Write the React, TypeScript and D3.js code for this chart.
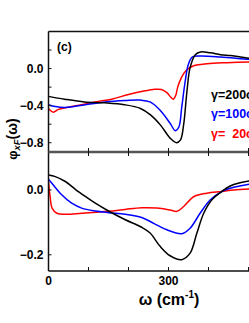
import React from 'react';
import * as d3 from 'd3';

// omega (cm-1), phi values
const topBlack: [number, number][] = [
  [0, -0.3], [40, -0.33], [90, -0.36], [140, -0.37], [190, -0.39], [230, -0.43], [255, -0.5],
  [280, -0.61], [304, -0.75], [320, -0.8], [330, -0.77], [338, -0.6], [346, -0.25], [354, 0.01],
  [367, 0.15], [380, 0.18], [405, 0.17], [430, 0.15], [455, 0.14], [480, 0.125], [502, 0.11], [530, 0.1],
];
const topBlue: [number, number][] = [
  [0, -0.39], [17, -0.41], [42, -0.42], [92, -0.39], [142, -0.36], [192, -0.345], [229, -0.34],
  [254, -0.36], [279, -0.45], [304, -0.59], [317, -0.67], [326, -0.63], [333, -0.42], [342, -0.13],
  [350, 0.05], [360, 0.125], [380, 0.135], [430, 0.125], [502, 0.1], [530, 0.095],
];
const topRed: [number, number][] = [
  [0, -0.43], [12, -0.47], [25, -0.44], [58, -0.41], [117, -0.36], [158, -0.33], [200, -0.28],
  [242, -0.24], [262, -0.225], [282, -0.225], [296, -0.26], [306, -0.31], [312, -0.33], [318, -0.29],
  [323, -0.2], [332, -0.1], [344, -0.02], [363, 0.03], [396, 0.053], [446, 0.064], [502, 0.07], [530, 0.07],
];

const botBlack: [number, number][] = [
  [0, 0.046], [17, 0.041], [42, 0.026], [67, 0.002], [92, -0.02], [117, -0.041], [150, -0.065],
  [192, -0.092], [233, -0.115], [254, -0.133], [279, -0.174], [304, -0.203], [333, -0.215],
  [354, -0.195], [371, -0.133], [388, -0.072], [408, -0.031], [433, -0.005], [454, 0.012],
  [479, 0.022], [502, 0.028], [530, 0.031],
];
const botBlue: [number, number][] = [
  [0, 0.033], [9, 0.02], [33, -0.015], [58, -0.041], [83, -0.056], [117, -0.065], [150, -0.07],
  [192, -0.075], [233, -0.085], [263, -0.103], [296, -0.123], [333, -0.135], [354, -0.118],
  [379, -0.072], [404, -0.031], [433, -0.005], [463, 0.008], [502, 0.018], [530, 0.021],
];
const botRed: [number, number][] = [
  [0, 0.026], [4, -0.02], [9, -0.056], [21, -0.072], [42, -0.075], [83, -0.072], [150, -0.066],
  [192, -0.06], [233, -0.055], [271, -0.056], [304, -0.062], [321, -0.066], [338, -0.051],
  [363, -0.021], [396, -0.01], [433, -0.005], [463, 0], [502, 0.003], [530, 0.004],
];

const xTicks = [100, 200, 300, 400, 500];
const xLabels = [0, 300];
const topTicks = [0.2, 0, -0.2, -0.4, -0.6, -0.8];
const topLabels = [0, -0.4, -0.8];
const botTicks = [0, -0.2];
const legend = [
  { text: 'γ=200cm', color: '#000' },
  { text: 'γ=100cm', color: '#0000ff' },
  { text: 'γ=  20cm', color: '#ff0000' },
];

const FONT = '"Liberation Sans", Arial, sans-serif';

export default function App() {
  const W = 249;
  const H = 323;
  const x = d3.scaleLinear().domain([0, 600]).range([48.5, 288.5]);
  const yTop = d3.scaleLinear().domain([-0.9, 0.4]).range([152, 31.5]);
  const yBot = d3.scaleLinear().domain([-0.25, 0.117]).range([271, 152]);

  const lineTop = d3.line<[number, number]>()
    .x((d) => x(d[0]))
    .y((d) => yTop(d[1]))
    .curve(d3.curveCatmullRom.alpha(0.5));
  const lineBot = d3.line<[number, number]>()
    .x((d) => x(d[0]))
    .y((d) => yBot(d[1]))
    .curve(d3.curveCatmullRom.alpha(0.5));

  const series = [
    { top: topRed, bot: botRed, color: '#ff0000' },
    { top: topBlue, bot: botBlue, color: '#0000ff' },
    { top: topBlack, bot: botBlack, color: '#000000' },
  ];

  const fmt = d3.format('.1f');
  const x0 = x(0);

  return (
    <svg width={W} height={H} style={{ position: 'absolute', left: 0, top: 0, background: '#fff' }}
      fontFamily={FONT} fontWeight="bold">
      <defs>
        <clipPath id="clipTop"><rect x={x0} y={yTop(0.4)} width={300} height={yTop(-0.9) - yTop(0.4)} /></clipPath>
        <clipPath id="clipBot"><rect x={x0} y={yBot(0.117)} width={300} height={yBot(-0.25) - yBot(0.117)} /></clipPath>
      </defs>

      {/* curves */}
      <g clipPath="url(#clipTop)">
        {series.map((s, i) => (
          <path key={i} d={lineTop(s.top) || ''} fill="none" stroke={s.color} strokeWidth={1.5} />
        ))}
      </g>
      <g clipPath="url(#clipBot)">
        {series.map((s, i) => (
          <path key={i} d={lineBot(s.bot) || ''} fill="none" stroke={s.color} strokeWidth={1.5} />
        ))}
      </g>

      {/* frames */}
      <line x1={x0} x2={W + 50} y1={yTop(0.4)} y2={yTop(0.4)} stroke="#111" strokeWidth={1.5} />
      <line x1={x0} x2={x0} y1={yTop(0.4)} y2={yBot(-0.25)} stroke="#111" strokeWidth={1.5} />
      <line x1={x0} x2={W + 50} y1={yBot(-0.25)} y2={yBot(-0.25)} stroke="#111" strokeWidth={1.5} />
      <line x1={x0} x2={W + 50} y1={yTop(-0.9)} y2={yTop(-0.9)} stroke="#555" strokeWidth={2.5} />

      {/* x ticks */}
      {xTicks.map((t) => (
        <g key={t}>
          <line x1={x(t)} x2={x(t)} y1={yTop(-0.9)} y2={yTop(-0.9) - 4} stroke="#111" strokeWidth={1} />
          <line x1={x(t)} x2={x(t)} y1={yBot(0.117)} y2={yBot(0.117) + 4} stroke="#111" strokeWidth={1} />
          <line x1={x(t)} x2={x(t)} y1={yBot(-0.25)} y2={yBot(-0.25) - 4} stroke="#111" strokeWidth={1} />
        </g>
      ))}
      {xLabels.map((t) => (
        <text key={t} x={x(t)} y={285} textAnchor="middle" fontSize={12}>{t}</text>
      ))}

      {/* y ticks */}
      {topTicks.map((t) => (
        <line key={t} x1={x0} x2={x0 + 3} y1={yTop(t)} y2={yTop(t)} stroke="#111" strokeWidth={1} />
      ))}
      {topLabels.map((t) => (
        <text key={t} x={43.5} y={yTop(t) + 4.3} textAnchor="end" fontSize={12}>{fmt(t)}</text>
      ))}
      {botTicks.map((t) => (
        <g key={t}>
          <line x1={x0} x2={x0 + 3} y1={yBot(t)} y2={yBot(t)} stroke="#111" strokeWidth={1} />
          <text x={43.5} y={yBot(t) + 4.3} textAnchor="end" fontSize={12}>{fmt(t)}</text>
        </g>
      ))}

      {/* panel label */}
      <text x={57} y={50.5} fontSize={12}>(c)</text>

      {/* legend */}
      {legend.map((l, i) => (
        <text key={i} x={211} y={98.5 + i * 19.5} fontSize={12.5} fill={l.color} style={{ whiteSpace: 'pre' }}>
          {l.text}
          <tspan fontSize={8} dy={-5}>-1</tspan>
        </text>
      ))}

      {/* axis titles */}
      <text transform="translate(16.5,139) rotate(-90)" textAnchor="middle" fontSize={13}>
        φ<tspan fontSize={9.5} fontStyle="italic" dy={3}>xF</tspan>
        <tspan dy={-3} fontSize={14}>(ω)</tspan>
      </text>
      <text x={169} y={305} textAnchor="middle" fontSize={16}>
        ω (cm<tspan fontSize={10} dy={-7}>-1</tspan><tspan dy={7}>)</tspan>
      </text>
    </svg>
  );
}
